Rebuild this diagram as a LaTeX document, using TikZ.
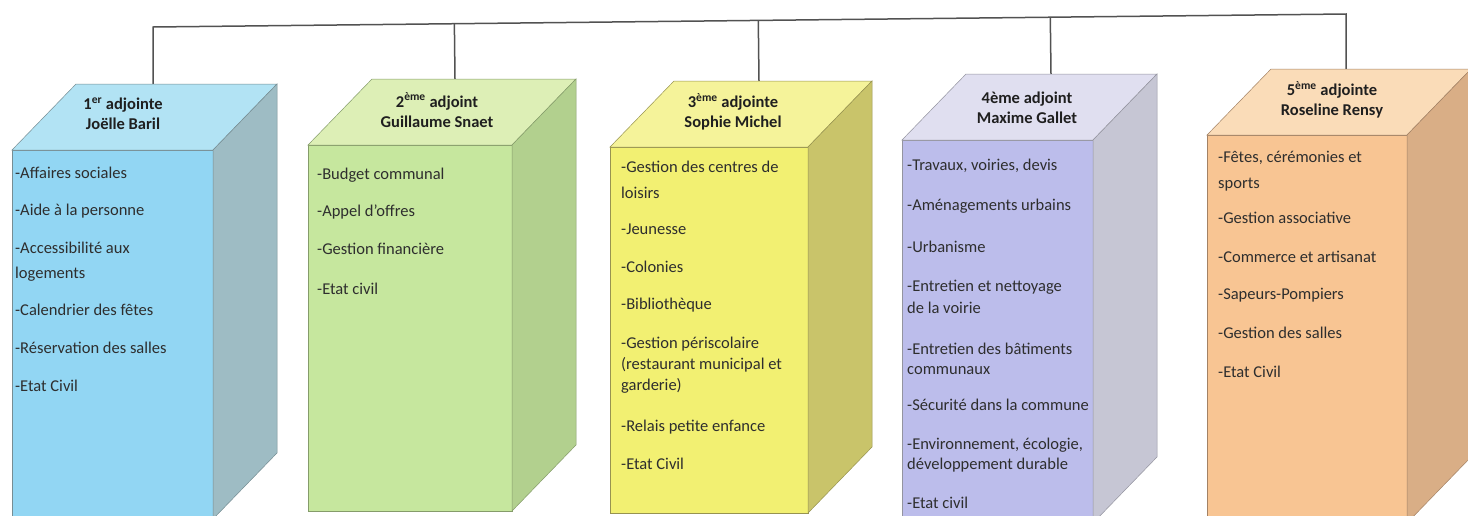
\documentclass[tikz,border=0pt]{standalone}
\usepackage{fontspec}
\setmainfont{Carlito}
\usepackage{xcolor}
\usetikzlibrary{calc}
\definecolor{front1}{HTML}{92D6F3}
\definecolor{top1}{HTML}{B2E3F4}
\definecolor{side1}{HTML}{9EBCC4}
\definecolor{front2}{HTML}{C6E79E}
\definecolor{top2}{HTML}{DDEFB6}
\definecolor{side2}{HTML}{B2D08E}
\definecolor{front3}{HTML}{F2F072}
\definecolor{top3}{HTML}{F5F39A}
\definecolor{side3}{HTML}{C9C46A}
\definecolor{front4}{HTML}{BCBDEB}
\definecolor{top4}{HTML}{E0DFF0}
\definecolor{side4}{HTML}{C6C6D4}
\definecolor{front5}{HTML}{F8C593}
\definecolor{top5}{HTML}{FADCB8}
\definecolor{side5}{HTML}{D9AE86}
\tikzset{
	title/.style={
			align=center, inner sep=0pt, text=black!88,
			font=\bfseries\fontsize{16.5}{20}\selectfont
		},
	duties/.style={
			align=left, anchor=north west, inner sep=0pt, text=black!82,
			font=\fontsize{16.5}{#1}\selectfont
		},
	bus/.style={draw=black!68, line width=1.5pt}
}

\begin{document}
\begin{tikzpicture}[x=1pt, y=-1pt]

			\useasboundingbox (0,0) rectangle (1468,515);
			\clip (0,0) rectangle (1468,515);

			% Draw the links from the top line to each box
			\coordinate (hub1) at (153,84);
			\coordinate (hub2) at (455,79);
			\coordinate (hub3) at (759,81);
			\coordinate (hub4) at (1051,74);
			\coordinate (hub5) at (1346,69);
			\coordinate (bus1) at (153,27);
			\coordinate (bus5) at (1346,14);
			\draw[bus] (hub1) -- (bus1) -- (bus5) -- (hub5);
			\foreach \k in {2,3,4}
				\draw[bus] (hub\k) -- ($(bus1)!(hub\k)!(bus5)$);

			% Draw the boxes (front, top and side)
			\foreach \i/\fl/\fr/\ft/\sb in {1/12/213/150/453, 2/308/512/145/445, 3/610/808/147/447, 4/902/1093/140/457, 5/1207/1407/135/457}{
					\filldraw[fill=front\i, draw=side\i!75!black, line width=0.5pt] (\fl,\ft) rectangle (\fr,\sb+66);
					\filldraw[fill=top\i, draw=side\i!75!black, line width=0.5pt] (\fl,\ft) -- (\fl+64,\ft-66) -- (\fr+64,\ft-66) -- (\fr,\ft) -- cycle;
					\filldraw[fill=side\i, draw=side\i!75!black, line width=0.5pt] (\fr,\ft) -- (\fr+64,\ft-66) -- (\fr+64,\sb) -- (\fr,\sb+66) -- cycle;
				}

			% Draw the names
			\node[title] (title1) at (123,114) {1\textsuperscript{er} adjointe\\Joëlle Baril};
			\node[title] (title2) at (437,110) {2\textsuperscript{ème} adjoint\\Guillaume Snaet};
			\node[title] (title3) at (733,112) {3\textsuperscript{ème} adjointe\\Sophie Michel};
			\node[title] (title4) at (1027,108) {4ème adjoint\\Maxime Gallet};
			\node[title] (title5) at (1332,100) {5\textsuperscript{ème} adjointe\\Roseline Rensy};

			% Draw the duties
			\node[duties=23] (duties1) at (15,167) {-Affaires sociales\\[14pt]-Aide à la personne\\[15pt]-Accessibilité aux\\[2pt]logements\\[14pt]-Calendrier des fêtes\\[15pt]-Réservation des salles\\[15pt]-Etat Civil};
			\node[duties=23] (duties2) at (317,168) {-Budget communal\\[14pt]-Appel d'offres\\[15pt]-Gestion financière\\[17pt]-Etat civil};
			\node[duties=21] (duties3) at (621,161) {-Gestion des centres de\\[5pt]loisirs\\[15pt]-Jeunesse\\[17pt]-Colonies\\[16pt]-Bibliothèque\\[18pt]-Gestion périscolaire\\(restaurant municipal et\\garderie)\\[20pt]-Relais petite enfance\\[17pt]-Etat Civil};
			\node[duties=20] (duties4) at (907,159) {-Travaux, voiries, devis\\[20pt]-Aménagements urbains\\[22pt]-Urbanisme\\[19pt]-Entretien et nettoyage\\[2pt]de la voirie\\[21pt]-Entretien des bâtiments\\communaux\\[16pt]-Sécurité dans la commune\\[19pt]-Environnement, écologie,\\développement durable\\[19pt]-Etat civil};
			\node[duties=22] (duties5) at (1218,151) {-Fêtes, cérémonies et\\[4pt]sports\\[13pt]-Gestion associative\\[17pt]-Commerce et artisanat\\[15pt]-Sapeurs-Pompiers\\[17pt]-Gestion des salles\\[17pt]-Etat Civil};

		\end{tikzpicture}
\end{document}
